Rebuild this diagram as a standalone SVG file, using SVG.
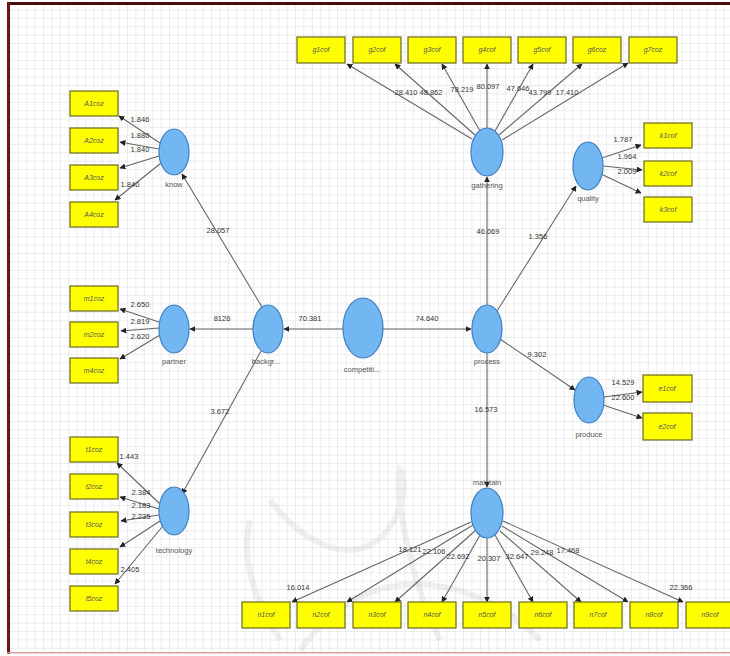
<svg xmlns="http://www.w3.org/2000/svg" width="730" height="656" viewBox="0 0 730 656">
<defs>
<pattern id="grid" x="2" y="2" width="8.4" height="8.4" patternUnits="userSpaceOnUse">
<path d="M8.4 0V8.4H0" fill="none" stroke="#d3d3d3" stroke-width="0.8"/>
</pattern>
<marker id="ah" viewBox="0 0 10 10" refX="9" refY="5" markerWidth="6" markerHeight="6" markerUnits="userSpaceOnUse" orient="auto">
<path d="M0 0L10 5L0 10z" fill="#222"/>
</marker>
<style>
.lv ellipse{fill:#72b6f2;stroke:#3d7fc4;stroke-width:1.2}
.mv rect{fill:#ffff00;stroke:#6a6a20;stroke-width:1.2}
.mv text{font-family:"Liberation Sans",Arial,sans-serif;font-size:7px;font-style:italic;fill:#555;text-anchor:middle}
.lv text{font-family:"Liberation Sans",Arial,sans-serif;font-size:7.5px;fill:#555;text-anchor:middle}
#connectors line{stroke:#666;stroke-width:1.1;marker-end:url(#ah)}
#connectors text{font-family:"Liberation Sans",Arial,sans-serif;font-size:7.5px;fill:#333;text-anchor:middle}
</style>
</defs>
<rect x="0" y="0" width="730" height="656" fill="#fff"/>
<rect x="9" y="5" width="721" height="647" fill="url(#grid)"/>
<g id="watermark" fill="none" stroke="#aaa" stroke-opacity="0.18" stroke-width="6">
<path d="M270 500C300 540 340 560 370 545C400 530 410 480 400 470C395 520 420 600 440 640"/>
<path d="M300 650C330 610 360 590 400 585C450 580 500 600 540 640"/>
<path d="M250 520C240 560 255 600 280 640"/>
</g>
<rect x="7" y="2" width="723" height="3" fill="#4a0c0c"/>
<rect x="7" y="2" width="3" height="652" fill="#6a1414"/>
<rect x="7" y="652" width="723" height="1.5" fill="#d9a0a0"/>

<g id="connectors">
<!-- know -->
<line x1="160" y1="143" x2="119" y2="116"/>
<line x1="159" y1="149" x2="120" y2="142"/>
<line x1="159" y1="156" x2="120" y2="168"/>
<line x1="161" y1="163" x2="115" y2="200"/>
<text x="140" y="122">1.846</text>
<text x="140" y="138">1.880</text>
<text x="140" y="152">1.840</text>
<text x="130" y="187">1.840</text>
<!-- partner -->
<line x1="159" y1="322" x2="120" y2="309"/>
<line x1="159" y1="328" x2="121" y2="331"/>
<line x1="160" y1="335" x2="120" y2="359"/>
<text x="140" y="307">2.650</text>
<text x="140" y="324">2.819</text>
<text x="140" y="339">2.620</text>
<!-- technology -->
<line x1="160" y1="504" x2="117" y2="463"/>
<line x1="159" y1="509" x2="120" y2="497"/>
<line x1="159" y1="515" x2="121" y2="521"/>
<line x1="160" y1="521" x2="120" y2="547"/>
<line x1="162" y1="527" x2="115" y2="584"/>
<text x="129" y="459">1.443</text>
<text x="141" y="495">2.384</text>
<text x="141" y="508">2.183</text>
<text x="141" y="519">2.235</text>
<text x="130" y="572">2.405</text>
<!-- structural -->
<line x1="343" y1="329" x2="284" y2="329"/>
<text x="310" y="321">70.381</text>
<line x1="383" y1="329" x2="471" y2="329"/>
<text x="427" y="321">74.640</text>
<line x1="253" y1="329" x2="190" y2="329"/>
<text x="222" y="321">8126</text>
<line x1="262" y1="307" x2="182" y2="174"/>
<text x="218" y="233">28.057</text>
<line x1="261" y1="351" x2="182" y2="494"/>
<text x="220" y="414">3.672</text>
<line x1="487" y1="305" x2="487" y2="177"/>
<text x="488" y="234">46.069</text>
<line x1="497" y1="311" x2="576" y2="186"/>
<text x="538" y="239">1.356</text>
<line x1="500" y1="339" x2="575" y2="390"/>
<text x="537" y="357">9.302</text>
<line x1="487" y1="352" x2="487" y2="487"/>
<text x="486" y="412">16.573</text>
<!-- gathering -->
<line x1="472" y1="139" x2="347" y2="64"/>
<line x1="475" y1="135" x2="395" y2="64"/>
<line x1="480" y1="131" x2="442" y2="64"/>
<line x1="487" y1="128" x2="487" y2="64"/>
<line x1="495" y1="131" x2="533" y2="64"/>
<line x1="499" y1="135" x2="582" y2="64"/>
<line x1="502" y1="140" x2="628" y2="63"/>
<text x="406" y="95">28.410</text>
<text x="431" y="95">48.862</text>
<text x="462" y="92">78.219</text>
<text x="488" y="89">80.097</text>
<text x="518" y="91">47.646</text>
<text x="540" y="95">43.799</text>
<text x="567" y="95">17.410</text>
<!-- quality -->
<line x1="602" y1="158" x2="641" y2="145"/>
<line x1="603" y1="166" x2="642" y2="170"/>
<line x1="601" y1="174" x2="641" y2="193"/>
<text x="623" y="142">1.787</text>
<text x="627" y="159">1.964</text>
<text x="627" y="174">2.009</text>
<!-- produce -->
<line x1="604" y1="397" x2="642" y2="392"/>
<line x1="603" y1="405" x2="642" y2="418"/>
<text x="623" y="385">14.529</text>
<text x="623" y="400">22.600</text>
<!-- maintain -->
<line x1="471" y1="522" x2="292" y2="602"/>
<line x1="473" y1="525" x2="347" y2="602"/>
<line x1="476" y1="530" x2="395" y2="602"/>
<line x1="480" y1="535" x2="442" y2="602"/>
<line x1="487" y1="538" x2="487" y2="602"/>
<line x1="495" y1="535" x2="533" y2="602"/>
<line x1="500" y1="531" x2="581" y2="602"/>
<line x1="502" y1="526" x2="628" y2="602"/>
<line x1="503" y1="521" x2="683" y2="602"/>
<text x="410" y="552">18.121</text>
<text x="434" y="554">22.106</text>
<text x="458" y="559">22.692</text>
<text x="489" y="561">20.307</text>
<text x="517" y="559">32.647</text>
<text x="542" y="555">29.248</text>
<text x="568" y="553">17.468</text>
<text x="298" y="590">16.014</text>
<text x="681" y="590">22.366</text>
</g>

<g id="know" class="lv"><ellipse cx="174" cy="152" rx="15" ry="23"/><text x="174" y="187">know</text></g>
<g id="partner" class="lv"><ellipse cx="174" cy="329" rx="15" ry="24"/><text x="174" y="364">partner</text></g>
<g id="technology" class="lv"><ellipse cx="174" cy="511" rx="15" ry="24"/><text x="174" y="553">technology</text></g>
<g id="background" class="lv"><ellipse cx="268" cy="329" rx="15" ry="24"/><text x="266" y="364">backgr...</text></g>
<g id="competition" class="lv"><ellipse cx="363" cy="328" rx="20" ry="30"/><text x="362" y="372">competiti...</text></g>
<g id="process" class="lv"><ellipse cx="487" cy="329" rx="15" ry="24"/><text x="487" y="364">process</text></g>
<g id="gathering" class="lv"><ellipse cx="487" cy="152" rx="16" ry="24"/><text x="487" y="188">gathering</text></g>
<g id="quality" class="lv"><ellipse cx="588" cy="166" rx="15" ry="24"/><text x="588" y="201">quality</text></g>
<g id="produce" class="lv"><ellipse cx="589" cy="400" rx="15" ry="23"/><text x="589" y="437">produce</text></g>
<g id="maintain" class="lv"><ellipse cx="487" cy="513" rx="16" ry="25"/><text x="487" y="485">maintain</text></g>

<g id="A1coz" class="mv"><rect x="70" y="91" width="48" height="25"/><text x="94" y="106">A1coz</text></g>
<g id="A2coz" class="mv"><rect x="70" y="128" width="48" height="25"/><text x="94" y="143">A2coz</text></g>
<g id="A3coz" class="mv"><rect x="70" y="165" width="48" height="25"/><text x="94" y="180">A3coz</text></g>
<g id="A4coz" class="mv"><rect x="70" y="202" width="48" height="25"/><text x="94" y="217">A4coz</text></g>
<g id="m1coz" class="mv"><rect x="70" y="286" width="48" height="25"/><text x="94" y="301">m1coz</text></g>
<g id="m2coz" class="mv"><rect x="70" y="322" width="48" height="25"/><text x="94" y="337">m2coz</text></g>
<g id="m4coz" class="mv"><rect x="70" y="358" width="48" height="25"/><text x="94" y="373">m4coz</text></g>
<g id="t1coz" class="mv"><rect x="70" y="437" width="48" height="25"/><text x="94" y="452">t1coz</text></g>
<g id="t2coz" class="mv"><rect x="70" y="474" width="48" height="25"/><text x="94" y="489">t2coz</text></g>
<g id="t3coz" class="mv"><rect x="70" y="512" width="48" height="25"/><text x="94" y="527">t3coz</text></g>
<g id="t4coz" class="mv"><rect x="70" y="549" width="48" height="25"/><text x="94" y="564">t4coz</text></g>
<g id="t5coz" class="mv"><rect x="70" y="586" width="48" height="25"/><text x="94" y="601">t5coz</text></g>
<g id="g1cof" class="mv"><rect x="297" y="37" width="48" height="26"/><text x="321" y="52">g1cof</text></g>
<g id="g2cof" class="mv"><rect x="353" y="37" width="48" height="26"/><text x="377" y="52">g2cof</text></g>
<g id="g3cof" class="mv"><rect x="408" y="37" width="48" height="26"/><text x="432" y="52">g3cof</text></g>
<g id="g4cof" class="mv"><rect x="463" y="37" width="48" height="26"/><text x="487" y="52">g4cof</text></g>
<g id="g5cof" class="mv"><rect x="518" y="37" width="48" height="26"/><text x="542" y="52">g5cof</text></g>
<g id="g6coz" class="mv"><rect x="573" y="37" width="48" height="26"/><text x="597" y="52">g6coz</text></g>
<g id="g7coz" class="mv"><rect x="629" y="37" width="48" height="26"/><text x="653" y="52">g7coz</text></g>
<g id="k1cof" class="mv"><rect x="644" y="123" width="48" height="25"/><text x="668" y="138">k1cof</text></g>
<g id="k2cof" class="mv"><rect x="644" y="161" width="48" height="25"/><text x="668" y="176">k2cof</text></g>
<g id="k3cof" class="mv"><rect x="644" y="197" width="48" height="25"/><text x="668" y="212">k3cof</text></g>
<g id="e1cof" class="mv"><rect x="643" y="375" width="49" height="27"/><text x="667" y="391">e1cof</text></g>
<g id="e2cof" class="mv"><rect x="643" y="413" width="49" height="27"/><text x="667" y="429">e2cof</text></g>
<g id="n1cof" class="mv"><rect x="242" y="602" width="48" height="26"/><text x="266" y="617">n1cof</text></g>
<g id="n2cof" class="mv"><rect x="297" y="602" width="48" height="26"/><text x="321" y="617">n2cof</text></g>
<g id="n3cof" class="mv"><rect x="353" y="602" width="48" height="26"/><text x="377" y="617">n3cof</text></g>
<g id="n4cof" class="mv"><rect x="408" y="602" width="48" height="26"/><text x="432" y="617">n4cof</text></g>
<g id="n5cof" class="mv"><rect x="463" y="602" width="48" height="26"/><text x="487" y="617">n5cof</text></g>
<g id="n6cof" class="mv"><rect x="519" y="602" width="48" height="26"/><text x="543" y="617">n6cof</text></g>
<g id="n7cof" class="mv"><rect x="574" y="602" width="48" height="26"/><text x="598" y="617">n7cof</text></g>
<g id="n8cof" class="mv"><rect x="630" y="602" width="48" height="26"/><text x="654" y="617">n8cof</text></g>
<g id="n9cof" class="mv"><rect x="686" y="602" width="48" height="26"/><text x="710" y="617">n9cof</text></g>
</svg>
